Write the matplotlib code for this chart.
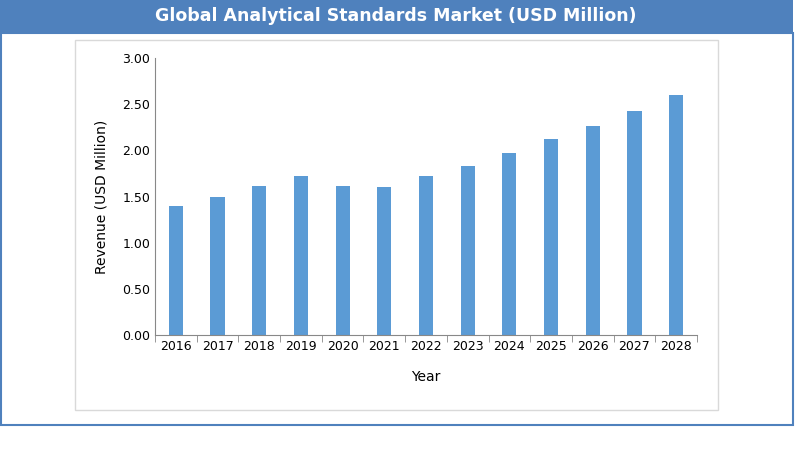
import matplotlib.pyplot as plt
from matplotlib.patches import Rectangle

years = ['2016', '2017', '2018', '2019', '2020', '2021', '2022',
         '2023', '2024', '2025', '2026', '2027', '2028']
revenue = [1.40, 1.50, 1.61, 1.72, 1.61, 1.60, 1.72, 1.83, 1.97, 2.12, 2.26, 2.43, 2.60]
yticks = [0.0, 0.5, 1.0, 1.5, 2.0, 2.5, 3.0]

W, H = 800, 470
fig = plt.figure(figsize=(W / 100, H / 100), dpi=100)

# title banner and frames
fig.patches.append(Rectangle((0, 1 - 33 / H), 793 / W, 33 / H, transform=fig.transFigure,
                             facecolor='#4f81bd', edgecolor='none'))
fig.patches.append(Rectangle((1 / W, 1 - 425 / H), 792 / W, 392 / H, transform=fig.transFigure,
                             facecolor='none', edgecolor='#4f81bd', linewidth=1.5))
fig.patches.append(Rectangle((75 / W, 1 - 410 / H), 643 / W, 370 / H, transform=fig.transFigure,
                             facecolor='none', edgecolor='#d9d9d9', linewidth=1))
fig.text(396 / W, 1 - 16 / H, 'Global Analytical Standards Market (USD Million)',
         ha='center', va='center', color='white', fontsize=12.5, fontweight='bold')

ax = fig.add_axes([155 / W, 1 - 335 / H, 542 / W, 277 / H])
ax.bar(years, revenue, width=0.34, color='#5b9bd5')
ax.set_ylim(0, 3)
ax.set_xlim(-0.5, len(years) - 0.5)
ax.set_yticks(yticks)
ax.set_yticklabels(['%.2f' % v for v in yticks])
ax.set_xticks([i - 0.5 for i in range(len(years) + 1)], minor=True)
ax.tick_params(axis='both', which='major', labelsize=9, length=0)
ax.tick_params(axis='x', which='minor', length=5, color='#888888')
for s in ['top', 'right']:
    ax.spines[s].set_visible(False)
ax.spines['left'].set_color('#888888')
ax.spines['bottom'].set_color('#888888')
ax.set_xlabel('Year', fontsize=10, labelpad=12)
ax.set_ylabel('Revenue (USD Million)', fontsize=10, labelpad=10)

fig.savefig('out.png', dpi=100)
